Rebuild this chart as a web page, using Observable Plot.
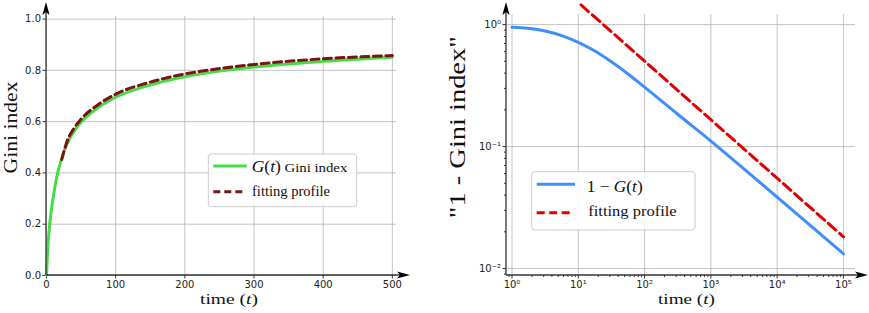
<!DOCTYPE html>
<html><head><meta charset="utf-8">
<script src="https://cdn.jsdelivr.net/npm/d3@7"></script>
<script src="https://cdn.jsdelivr.net/npm/@observablehq/plot@0.6"></script>
<style>
body{margin:0;background:#fff}
#wrap{position:relative;width:869px;height:313px;overflow:hidden}
#wrap svg{position:absolute;top:0;overflow:visible}
</style>
</head><body><div id="wrap"></div>
<script>
// ---- data: left panel (linear) ----
const giniT = [0, 1, 2, 3, 5, 7, 10, 15, 20, 30, 40, 50, 75, 100, 150, 200, 250, 300, 400, 500];
const giniG = [0, 0.06, 0.11, 0.15, 0.21, 0.255, 0.31, 0.385, 0.44, 0.515, 0.563, 0.598, 0.655, 0.695, 0.743, 0.775, 0.797, 0.813, 0.835, 0.851];
const fitT = [22, 30, 40, 50, 75, 100, 150, 200, 250, 300, 400, 500];
const fitG = [0.452, 0.525, 0.575, 0.61, 0.667, 0.707, 0.754, 0.786, 0.807, 0.823, 0.845, 0.858];
// ---- data: right panel (log-log) ----
const compT = [1, 2, 3.16, 5.62, 10, 17.8, 31.6, 56.2, 100, 316, 1000, 10000, 100000];
const compV = [0.951, 0.925, 0.887, 0.813, 0.716, 0.607, 0.495, 0.394, 0.307, 0.184, 0.111, 0.0385, 0.0132];
const powT = [11, 100, 1000, 10000, 100000];
const powV = [1.45, 0.502, 0.166, 0.055, 0.0182];
// ---- ticks ----
const linTicksX = [0, 100, 200, 300, 400, 500];
const linTicksY = [0, 0.2, 0.4, 0.6, 0.8, 1.0];
const logTicksX = [1, 10, 100, 1000, 10000, 100000];
const logTicksY = [0.01, 0.1, 1];
const minorMult = [2, 3, 4, 5, 6, 7, 8, 9];
const minorX = [0.9].concat(...[1, 10, 100, 1000, 10000].map(d => minorMult.map(m => m * d)));
const minorY = [0.009].concat(...[0.01, 0.1].map(d => minorMult.map(m => m * d)));

const leftRows = giniT.map((t, i) => ({t, g: giniG[i]}));
const fitRows = fitT.map((t, i) => ({t, g: fitG[i]}));
const compRows = compT.map((t, i) => ({t, v: compV[i]}));
const powRows = powT.map((t, i) => ({t, v: powV[i]}));

const sup = {"0":"⁰","1":"¹","2":"²","3":"³","4":"⁴","5":"⁵","-":"⁻"};
const pow10 = d => "10" + String(Math.round(Math.log10(d))).split("").map(c => sup[c]).join("");

const gridStyle = {stroke: "#b0b0b0", strokeOpacity: 0.75, strokeWidth: 1};
const baseStyle = {fontFamily: "DejaVu Sans, sans-serif", fontSize: "10px", color: "#222", background: "transparent", overflow: "visible"};

const left = Plot.plot({
  width: 430, height: 313,
  marginLeft: 46, marginRight: 34, marginTop: 16, marginBottom: 38,
  x: {domain: [0, 506]},
  y: {domain: [0, 1.01]},
  style: baseStyle,
  marks: [
    Plot.gridX(linTicksX, gridStyle),
    Plot.gridY(linTicksY, gridStyle),
    Plot.axisX({ticks: linTicksX, tickSize: 3.5, tickPadding: 2, label: null, stroke: "#333", tickFormat: d => String(d)}),
    Plot.axisY({ticks: linTicksY, tickSize: 3.5, tickPadding: 2, label: null, stroke: "#333", tickFormat: d => d.toFixed(1)}),
    Plot.line(leftRows, {x: "t", y: "g", stroke: "#44dd44", strokeWidth: 3, curve: "monotone-x"}),
    Plot.line(fitRows, {x: "t", y: "g", stroke: "#7a1414", strokeWidth: 3, strokeDasharray: "8,4.5", curve: "monotone-x"})
  ]
});

const right = Plot.plot({
  width: 439, height: 313,
  marginLeft: 76, marginRight: 14, marginTop: 14, marginBottom: 38,
  x: {type: "log", domain: [0.826, 1.52e5]},
  y: {type: "log", domain: [0.00877, 1.21]},
  style: baseStyle,
  marks: [
    Plot.gridX(logTicksX, gridStyle),
    Plot.gridY(logTicksY, gridStyle),
    Plot.axisX({ticks: minorX, tickSize: 2, label: null, stroke: "#333", tickFormat: () => ""}),
    Plot.axisY({ticks: minorY, tickSize: 2, label: null, stroke: "#333", tickFormat: () => ""}),
    Plot.axisX({ticks: logTicksX, tickSize: 3.5, tickPadding: 2, label: null, stroke: "#333", tickFormat: pow10}),
    Plot.axisY({ticks: logTicksY, tickSize: 3.5, tickPadding: 2, label: null, stroke: "#333", tickFormat: pow10}),
    Plot.line(compRows, {x: "t", y: "v", stroke: "#3f8efc", strokeWidth: 3, curve: "monotone-x"}),
    Plot.line(powRows, {x: "t", y: "v", stroke: "#e00000", strokeWidth: 3, strokeDasharray: "10,5"})
  ]
});

const wrap = document.getElementById("wrap");
left.style.left = "0px";
right.style.left = "430px";
wrap.appendChild(left);
wrap.appendChild(right);

function decorate(plot, opts) {
  const sx = plot.scale("x"), sy = plot.scale("y");
  const svg = d3.select(plot);
  const xd = sx.domain, yd = sy.domain;
  const x0 = sx.apply(xd[0]), x1 = sx.apply(xd[1]);
  const y0 = sy.apply(yd[0]), y1 = sy.apply(yd[1]);
  const g = svg.append("g");
  const xtip = x1 + opts.xtip, ytip = y1 - opts.ytip;
  g.append("line").attr("x1", x0).attr("x2", xtip - 10).attr("y1", y0).attr("y2", y0)
    .attr("stroke", "#333").attr("stroke-width", 1.3);
  g.append("line").attr("x1", x0).attr("x2", x0).attr("y1", y0).attr("y2", ytip + 10)
    .attr("stroke", "#333").attr("stroke-width", 1.3);
  g.append("path").attr("fill", "#000")
    .attr("d", `M${xtip},${y0} L${xtip - 13},${y0 - 3.6} L${xtip - 10},${y0} L${xtip - 13},${y0 + 3.6} Z`);
  g.append("path").attr("fill", "#000")
    .attr("d", `M${x0},${ytip} L${x0 - 3.6},${ytip + 13} L${x0},${ytip + 10} L${x0 + 3.6},${ytip + 13} Z`);
  // axis titles
  const serif = "Liberation Serif, Times New Roman, serif";
  const xl = svg.append("text").attr("x", opts.xlab[0]).attr("y", opts.xlab[1])
    .attr("text-anchor", "middle").attr("font-family", serif).attr("font-size", opts.xlab[2])
    .attr("fill", "#111").attr("textLength", opts.xlab[3]).attr("lengthAdjust", "spacingAndGlyphs");
  xl.append("tspan").text("time (");
  xl.append("tspan").attr("font-style", "italic").text("t");
  xl.append("tspan").text(")");
  svg.append("text").attr("transform", `translate(${opts.ylab[0]},${opts.ylab[1]}) rotate(-90)`)
    .attr("text-anchor", "middle").attr("font-family", serif).attr("font-size", opts.ylab[2])
    .attr("fill", "#111").attr("textLength", opts.ylab[3]).attr("lengthAdjust", "spacingAndGlyphs")
    .text(opts.ylab[4]);
  // legend
  const L = opts.legend;
  const lg = svg.append("g");
  lg.append("rect").attr("x", L.box[0]).attr("y", L.box[1]).attr("width", L.box[2]).attr("height", L.box[3])
    .attr("rx", 3).attr("fill", "#fff").attr("fill-opacity", 0.82).attr("stroke", "#cccccc").attr("stroke-width", 1);
  L.items.forEach(it => {
    lg.append("line").attr("x1", it.line[0]).attr("x2", it.line[1]).attr("y1", it.line[2]).attr("y2", it.line[2])
      .attr("stroke", it.color).attr("stroke-width", 3).attr("stroke-dasharray", it.dash || null);
    const t = lg.append("text").attr("x", it.text[0]).attr("y", it.text[1]).attr("font-family", serif)
      .attr("text-anchor", "start")
      .attr("font-size", it.text[2]).attr("fill", "#111").attr("textLength", it.text[3]).attr("lengthAdjust", "spacingAndGlyphs");
    it.parts.forEach(p => {
      const s = t.append("tspan").text(p[0]);
      if (p[1]) s.attr("font-style", "italic");
      if (p[2]) s.attr("font-size", p[2]);
    });
  });
}

decorate(left, {
  xtip: 14, ytip: 14,
  xlab: [229, 303.5, 15.5, 58],
  ylab: [17, 127.5, 19, 92, "Gini index"],
  legend: {
    box: [208.3, 154, 148.4, 52.7],
    items: [
      {line: [213.3, 246.7, 166], color: "#44dd44", text: [251.7, 171.5, 16, 95.6],
       parts: [["G", true], ["("], ["t", true], [")"], [" Gini index", false, 13.5]]},
      {line: [213.3, 243.3, 191.7], color: "#7a1414", dash: "7,4", text: [252, 196, 14, 78],
       parts: [["fitting profile"]]}
    ]
  }
});

decorate(right, {
  xtip: 13, ytip: 12,
  xlab: [256.5, 303.5, 15.5, 57],
  ylab: [35, 127.2, 24, 182, "\"1 - Gini index\""],
  legend: {
    box: [101.7, 171.7, 163.3, 58.3],
    items: [
      {line: [106.7, 145, 184.3], color: "#3f8efc", text: [156.7, 191.5, 17, 56],
       parts: [["1 − "], ["G", true], ["("], ["t", true], [")"]]},
      {line: [106.7, 141.7, 212.7], color: "#e00000", dash: "8,4.5", text: [158.3, 215.5, 15, 88.4],
       parts: [["fitting profile"]]}
    ]
  }
});
</script>
</body></html>
